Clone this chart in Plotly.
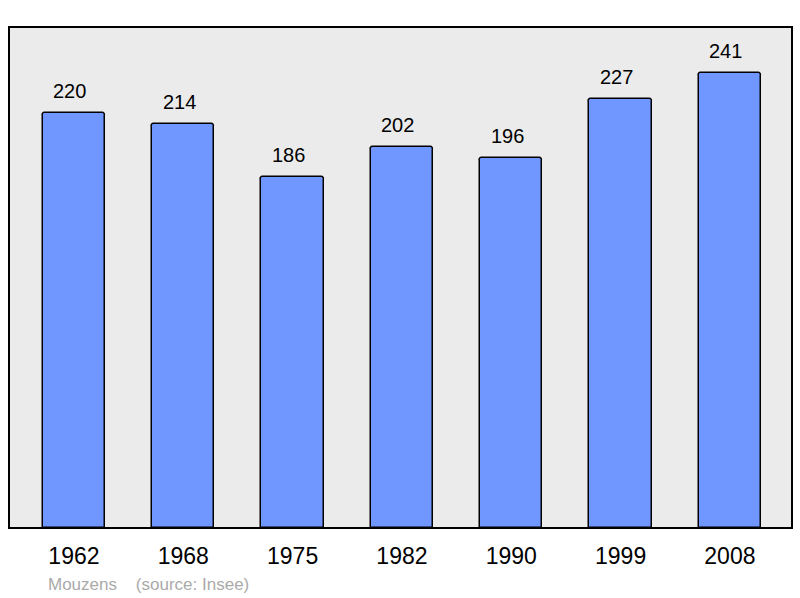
import plotly.graph_objects as go

years = ["1962", "1968", "1975", "1982", "1990", "1999", "2008"]
population = [220, 214, 186, 202, 196, 227, 241]

FONT = "Liberation Sans, Arial, sans-serif"

fig = go.Figure()
fig.add_trace(go.Bar(
    x=list(range(len(years))), y=population,
    width=0.57,
    marker=dict(color="#7097ff", line=dict(color="#000000", width=1.5), cornerradius=3),
    hoverinfo="skip",
))

for i, v in enumerate(population):
    fig.add_annotation(x=i, y=v, text=str(v), showarrow=False, yanchor="bottom",
                       yshift=9, xshift=-4, font=dict(family=FONT, size=20, color="#000000"))

fig.add_annotation(xref="paper", yref="paper", x=0.047, y=-0.112, xanchor="left", yanchor="middle",
                   text="Mouzens &nbsp;&nbsp; (source: Insee)", showarrow=False,
                   font=dict(family=FONT, size=17, color="#aaaaaa"))

fig.add_shape(type="rect", xref="paper", yref="paper", x0=0, y0=0, x1=1, y1=1,
              line=dict(color="#000000", width=2), layer="above")

fig.update_layout(
    width=800, height=598,
    margin=dict(l=9, r=8, t=27, b=70, autoexpand=False),
    paper_bgcolor="#ffffff", plot_bgcolor="#ebebeb",
    showlegend=False,
    xaxis=dict(range=[-0.594, 6.568], tickmode="array", tickvals=list(range(len(years))),
               ticktext=years, showgrid=False, zeroline=False, ticks="", ticklen=0,
               ticklabelstandoff=12,
               tickfont=dict(family=FONT, size=23, color="#000000")),
    yaxis=dict(range=[0, 265.4], showgrid=False, zeroline=False, showticklabels=False),
    bargap=0,
)

fig.write_html("out.html", config={"displayModeBar": False},
               post_script="document.body.style.margin='0';document.body.style.overflow='hidden';")
